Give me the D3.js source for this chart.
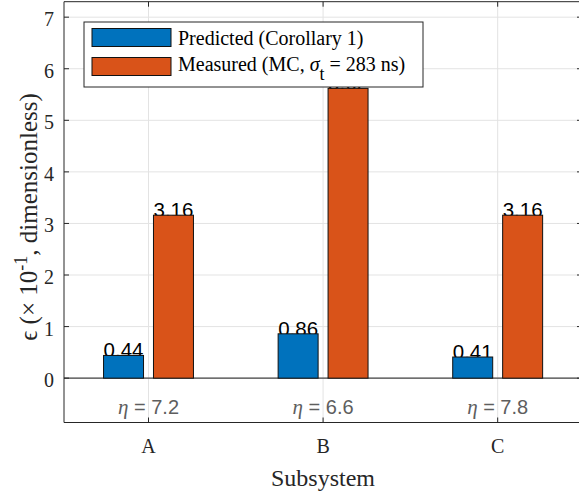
<!DOCTYPE html>
<html>
<head>
<meta charset="utf-8">
<script src="https://cdn.jsdelivr.net/npm/d3@7"></script>
<style>
body { margin: 0; background: #fff; }
svg { display: block; }
</style>
</head>
<body>
<svg id="chart" width="579" height="492"></svg>
<script>
// data
var subsystems = ['A', 'B', 'C']
var predicted = [0.44, 0.86, 0.41]
var measured = [3.16, 5.62, 3.16]
var etaValues = ['7.2', '6.6', '7.8']
var yTicks = [0, 1, 2, 3, 4, 5, 6, 7]
var seriesNames = ['Predicted (Corollary 1)', 'Measured']

var blue = '#0072BD'
var orange = '#D95319'
var axisColor = '#262626'
var gridColor = '#e3e3e3'

var svg = d3.select('#chart')
// note: "top" is taken by window.top, so use plot* names
var plotLeft = 64, plotRight = 582, plotTop = 1.7, plotBottom = 422.5

var xScale = d3.scaleLinear().domain([0.516, 3.483]).range([plotLeft, plotRight])
var yScale = d3.scaleLinear().domain([-0.86, 7.3]).range([plotBottom, plotTop])

var barW = 0.229
var offsets = [-0.143, 0.143]
var colors = [blue, orange]
var series = [predicted, measured]

// grid
var grid = svg.append('g')
grid.selectAll('.hg').data(yTicks).enter().append('line')
	.attr('x1', plotLeft).attr('x2', plotRight)
	.attr('y1', d => yScale(d)).attr('y2', d => yScale(d))
	.style('stroke', gridColor).style('stroke-width', 1)
grid.selectAll('.vg').data(subsystems).enter().append('line')
	.attr('x1', (d, i) => xScale(i + 1)).attr('x2', (d, i) => xScale(i + 1))
	.attr('y1', plotTop).attr('y2', plotBottom)
	.style('stroke', gridColor).style('stroke-width', 1)

// zero line
svg.append('line')
	.attr('x1', plotLeft).attr('x2', plotRight)
	.attr('y1', yScale(0)).attr('y2', yScale(0))
	.style('stroke', '#444').style('stroke-width', 1.3)

// value labels sit under the bars (bar tops clip the digits like the original)
var labels = svg.append('g')
var bars = svg.append('g')
for (var s = 0; s < series.length; s++) {
	labels.append('g').selectAll('text').data(series[s]).enter().append('text')
		.attr('x', (d, i) => xScale(i + 1 + offsets[s]))
		.attr('y', d => yScale(d) + 2)
		.attr('text-anchor', 'middle')
		.style('font-family', '"Liberation Sans", Arial, sans-serif')
		.style('font-size', '20.5px')
		.style('fill', '#000')
		.text(d => d.toFixed(2))
	bars.append('g').selectAll('rect').data(series[s]).enter().append('rect')
		.attr('x', (d, i) => xScale(i + 1 + offsets[s] - barW / 2))
		.attr('width', xScale(barW) - xScale(0))
		.attr('y', d => yScale(d))
		.attr('height', d => yScale(0) - yScale(d))
		.style('fill', colors[s])
		.style('stroke', '#111').style('stroke-width', 1)
}

// eta labels
svg.selectAll('.eta').data(etaValues).enter().append('text')
	.attr('x', (d, i) => xScale(i + 1))
	.attr('y', 414)
	.attr('text-anchor', 'middle')
	.style('font-family', '"Liberation Sans", Arial, sans-serif')
	.style('font-size', '20px')
	.style('fill', '#5e5e5e')
	.each(function (d) {
		var t = d3.select(this)
		t.append('tspan').style('font-family', '"Liberation Serif", serif').style('font-style', 'italic').style('font-size', '21px').text('η')
		t.append('tspan').text(' = ' + d)
	})

// axes box
var box = svg.append('g').style('stroke', axisColor).style('stroke-width', 1)
box.append('line').attr('x1', plotLeft).attr('x2', plotLeft).attr('y1', plotTop).attr('y2', plotBottom)
box.append('line').attr('x1', plotRight).attr('x2', plotRight).attr('y1', plotTop).attr('y2', plotBottom)
box.append('line').attr('x1', plotLeft).attr('x2', plotRight).attr('y1', plotTop).attr('y2', plotTop)
box.append('line').attr('x1', plotLeft).attr('x2', plotRight).attr('y1', plotBottom).attr('y2', plotBottom)

var tickLen = 5
box.selectAll('.yt').data(yTicks).enter().append('line')
	.attr('x1', plotLeft).attr('x2', plotLeft + tickLen)
	.attr('y1', d => yScale(d)).attr('y2', d => yScale(d))
box.selectAll('.yt2').data(yTicks).enter().append('line')
	.attr('x1', plotRight - tickLen).attr('x2', plotRight)
	.attr('y1', d => yScale(d)).attr('y2', d => yScale(d))
box.selectAll('.xt').data(subsystems).enter().append('line')
	.attr('x1', (d, i) => xScale(i + 1)).attr('x2', (d, i) => xScale(i + 1))
	.attr('y1', plotBottom).attr('y2', plotBottom - tickLen)
box.selectAll('.xt2').data(subsystems).enter().append('line')
	.attr('x1', (d, i) => xScale(i + 1)).attr('x2', (d, i) => xScale(i + 1))
	.attr('y1', plotTop).attr('y2', plotTop + tickLen)

var serif = '"Liberation Serif", "Times New Roman", serif'

// tick labels
svg.selectAll('.ytl').data(yTicks).enter().append('text')
	.attr('x', plotLeft - 10)
	.attr('y', d => yScale(d) + 9)
	.attr('text-anchor', 'end')
	.style('font-family', serif).style('font-size', '20px').style('fill', axisColor)
	.text(d => d)
svg.selectAll('.xtl').data(subsystems).enter().append('text')
	.attr('x', (d, i) => xScale(i + 1))
	.attr('y', 453)
	.attr('text-anchor', 'middle')
	.style('font-family', serif).style('font-size', '20px').style('fill', axisColor)
	.text(d => d)

// axis labels
svg.append('text')
	.attr('x', 323).attr('y', 486)
	.attr('text-anchor', 'middle')
	.style('font-family', serif).style('font-size', '24px').style('fill', axisColor)
	.text('Subsystem')

var yl = svg.append('text')
	.attr('transform', 'translate(37,217) rotate(-90)')
	.attr('text-anchor', 'middle')
	.style('font-family', serif).style('font-size', '25px').style('fill', axisColor)
yl.append('tspan').text('ϵ (× 10')
yl.append('tspan').attr('dy', -10).style('font-size', '18px').text('-1')
yl.append('tspan').attr('dy', 10).text(', dimensionless)')

// legend
var lg = svg.append('g')
lg.append('rect').attr('x', 84).attr('y', 22).attr('width', 339).attr('height', 65)
	.style('fill', '#fff').style('stroke', axisColor).style('stroke-width', 1)
var rows = [28.5, 57.5]
for (var k = 0; k < 2; k++) {
	lg.append('rect').attr('x', 92).attr('y', rows[k]).attr('width', 79).attr('height', 18)
		.style('fill', colors[k]).style('stroke', '#111').style('stroke-width', 1)
}
lg.append('text').attr('x', 178).attr('y', 44.5)
	.style('font-family', serif).style('font-size', '20px').style('fill', '#000')
	.text(seriesNames[0])
var mt = lg.append('text').attr('x', 178).attr('y', 70.5)
	.style('font-family', serif).style('font-size', '20px').style('fill', '#000')
mt.append('tspan').text(seriesNames[1] + ' (MC, ')
mt.append('tspan').style('font-style', 'italic').text('σ')
mt.append('tspan').attr('dy', 9).style('font-size', '18px').text('t')
mt.append('tspan').attr('dy', -9).text(' = 283 ns)')
</script>
</body>
</html>
